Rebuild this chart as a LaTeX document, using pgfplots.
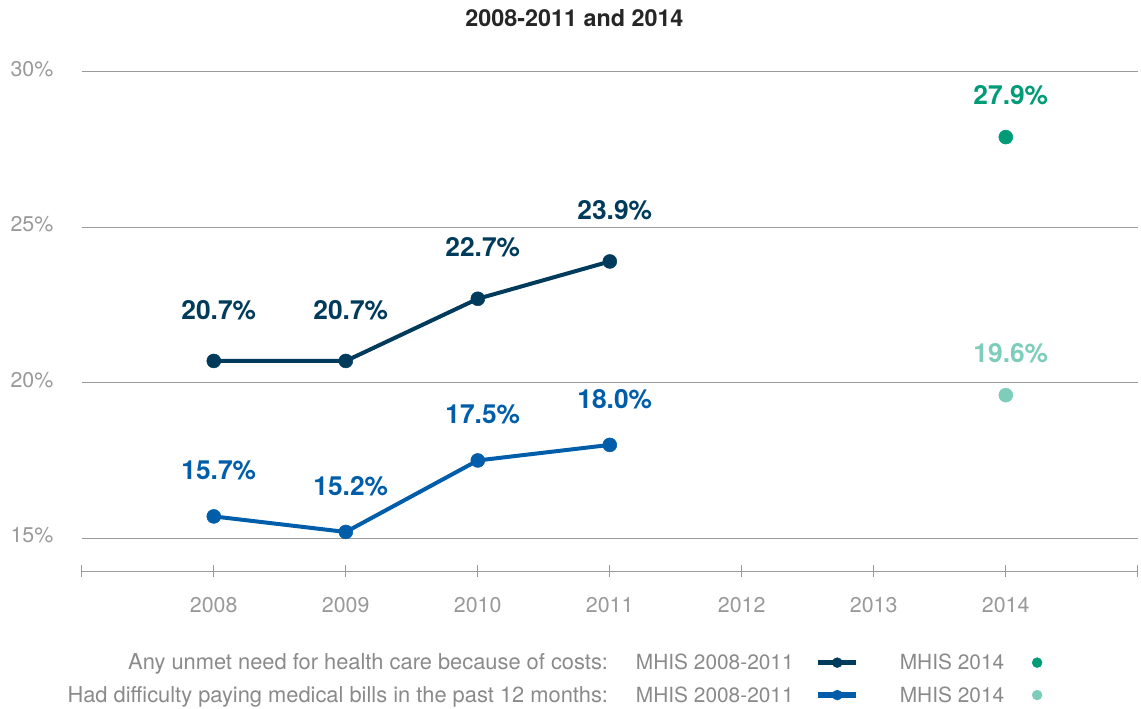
\documentclass[border=0pt]{standalone}
\usepackage{pgfplots}
\pgfplotsset{compat=1.18}
\usepackage{fontspec}
\setmainfont{TeX Gyre Heros}
\usetikzlibrary{calc}
\definecolor{navy}{HTML}{003B5C}
\definecolor{mblue}{HTML}{005DAA}
\definecolor{mgreen}{HTML}{009B77}
\definecolor{lgreen}{HTML}{7ECDBB}
\definecolor{gridgray}{HTML}{9A9A9A}
\definecolor{ticktext}{HTML}{999999}
\definecolor{legtext}{HTML}{8A8A8A}
\pgfplotsset{
  linelegend/.style={legend image code/.code={\draw[##1, mark repeat=2, mark phase=2] plot coordinates {(0bp,0bp)(19bp,0bp)(38bp,0bp)};}},
  dotlegend/.style={legend image code/.code={\draw[##1] plot coordinates {(0bp,0bp)};}},
}
\begin{document}
\begin{tikzpicture}
\begin{axis}[
  name=ax, scale only axis, width=1059bp, height=501bp,
  xmin=2007, xmax=2015, ymin=13.93, ymax=30,
  axis x line=bottom, axis y line=left,
  y axis line style={draw=none},
  x axis line style={draw=gridgray, line width=1.8bp, -},
  xtick={2007,...,2015},
  xticklabels={,2008,2009,2010,2011,2012,2013,2014,},
  major tick length=12bp, tick align=center,
  xtick style={draw=gridgray, line width=1bp},
  ytick={15,20,25,30}, yticklabels={15\%,20\%,25\%,30\%},
  ytick style={draw=none},
  ymajorgrids, grid style={gridgray, line width=1.2bp},
  tick label style={font=\fontsize{21.5}{25}\selectfont, text=ticktext},
  xticklabel style={yshift=-16bp},
  yticklabel style={anchor=east, xshift=-19bp, yshift=3bp},
  clip=false,
  point meta=y,
  nodes near coords={\pgfmathprintnumber[fixed,fixed zerofill,precision=1,assume math mode=true]{\pgfplotspointmeta}\%},
  every node near coord/.append style={font=\fontsize{26.5}{31}\selectfont\bfseries, anchor=base, xshift=5bp},
  legend columns=3,
  legend plot pos=right,
  legend cell align=right,
  legend style={at={(0.447,-0.215)}, anchor=center, draw=none, fill=none,
    font=\fontsize{21}{25}\selectfont, text=legtext, row sep=11bp,
    /tikz/column 1/.style={column sep=14bp},
    /tikz/column 2/.style={column sep=10bp},
    /tikz/column 3/.style={column sep=20bp},
    /tikz/column 4/.style={column sep=39bp},
    /tikz/column 5/.style={column sep=26bp}},
]
\addlegendimage{empty legend}
\addlegendentry{\fontsize{22}{26}\selectfont Any unmet need for health care because of costs:}
\addlegendimage{navy, line width=5.5bp, mark=*, mark size=5bp, mark options={line width=0.4bp}, linelegend}
\addlegendentry{MHIS 2008-2011}
\addlegendimage{mgreen, only marks, mark=*, mark size=5bp, dotlegend}
\addlegendentry{MHIS 2014}
\addlegendimage{empty legend}
\addlegendentry{\fontsize{22}{26}\selectfont Had difficulty paying medical bills in the past 12 months:}
\addlegendimage{mblue, line width=5.5bp, mark=*, mark size=5bp, mark options={line width=0.4bp}, linelegend}
\addlegendentry{MHIS 2008-2011}
\addlegendimage{lgreen, only marks, mark=*, mark size=5bp, dotlegend}
\addlegendentry{MHIS 2014}

\addplot[navy, line width=4bp, mark=*, mark size=7bp, mark options={line width=0.5bp},
  every node near coord/.append style={yshift=42bp, text=navy}, forget plot]
  coordinates {(2008,20.7)(2009,20.7)(2010,22.7)(2011,23.9)};
\addplot[mblue, line width=4bp, mark=*, mark size=7bp, mark options={line width=0.5bp},
  every node near coord/.append style={yshift=37bp, text=mblue}, forget plot]
  coordinates {(2008,15.7)(2009,15.2)(2010,17.5)(2011,18.0)};
\addplot[mgreen, only marks, mark=*, mark size=7bp, mark options={line width=0.5bp},
  every node near coord/.append style={yshift=33bp, text=mgreen}, forget plot]
  coordinates {(2014,27.9)};
\addplot[lgreen, only marks, mark=*, mark size=7bp, mark options={line width=0.5bp},
  every node near coord/.append style={yshift=33bp, text=lgreen}, forget plot]
  coordinates {(2014,19.6)};
\end{axis}
\node[font=\fontsize{23.5}{28}\selectfont\bfseries, text=black!85] at ($(ax.north west)+(494bp,54bp)$) {2008-2011 and 2014};
\useasboundingbox ($(ax.south west)+(-82bp,-137bp)$) rectangle ($(ax.north east)+(0bp,72bp)$);
\end{tikzpicture}
\end{document}
